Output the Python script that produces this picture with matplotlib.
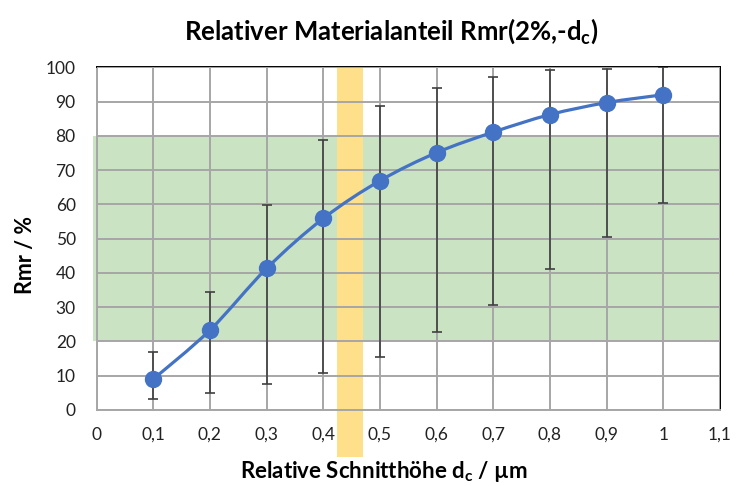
import numpy as np
import matplotlib
matplotlib.use("Agg")
from matplotlib import pyplot as plt
from matplotlib.path import Path
from matplotlib.patches import PathPatch, Rectangle

plt.rcParams['font.family'] = ['Lato', 'DejaVu Sans']
plt.rcParams['mathtext.default'] = 'regular'

# values
dc = [0.1, 0.2, 0.3, 0.4, 0.5, 0.6, 0.7, 0.8, 0.9, 1.0]
rmr = [9.0, 23.3, 41.3, 55.9, 66.9, 75.1, 81.1, 86.2, 89.7, 92.0]
rmr_low = [3.1, 4.9, 7.6, 10.7, 15.4, 22.8, 30.6, 41.2, 50.5, 60.4]
rmr_high = [17.0, 34.5, 59.8, 78.9, 88.6, 94.1, 97.2, 99.1, 99.6, 100.0]
band_green = (20, 80)
band_yellow = (0.425, 0.470)
xticks = [0, 0.1, 0.2, 0.3, 0.4, 0.5, 0.6, 0.7, 0.8, 0.9, 1.0, 1.1]
yticks = [0, 10, 20, 30, 40, 50, 60, 70, 80, 90, 100]

blue = '#4472C4'

fig = plt.figure(figsize=(7.4, 4.86), dpi=100)
ax = fig.add_axes([0.1305, 0.1564, 0.8425, 0.7051])

x = np.array(dc)
y = np.array(rmr)

# green tolerance band (sticks out a bit to the left like in the original)
ax.add_patch(Rectangle((-0.006, band_green[0]), 1.106, band_green[1] - band_green[0],
                       facecolor='#C9E3C3', edgecolor='none', zorder=0, clip_on=False))

# grid
ax.set_axisbelow(False)
ax.grid(True, color='#A6A6A6', lw=1.4, zorder=1)

# yellow band, reaching down into the tick label row
ax.add_patch(Rectangle((band_yellow[0], -13.7), band_yellow[1] - band_yellow[0], 113.7,
                       facecolor='#FFE08A', edgecolor='none', zorder=2, clip_on=False))

# error bars
yerr = [y - np.array(rmr_low), np.array(rmr_high) - y]
ax.errorbar(x, y, yerr=yerr, fmt='none', ecolor='#404040', elinewidth=1.2,
            capsize=3.5, capthick=1.2, zorder=3)

# smoothed line like the Excel one (Catmull-Rom as cubic Bezier)
verts = [(x[0], y[0])]
codes = [Path.MOVETO]
px = np.concatenate([[x[0]], x, [x[-1]]])
py = np.concatenate([[y[0]], y, [y[-1]]])
for i in range(1, len(x)):
    p0 = np.array([px[i - 1], py[i - 1]])
    p1 = np.array([px[i], py[i]])
    p2 = np.array([px[i + 1], py[i + 1]])
    p3 = np.array([px[i + 2], py[i + 2]])
    c1 = p1 + (p2 - p0) / 6
    c2 = p2 - (p3 - p1) / 6
    verts += [tuple(c1), tuple(c2), tuple(p2)]
    codes += [Path.CURVE4] * 3
ax.add_patch(PathPatch(Path(verts, codes), facecolor='none', edgecolor=blue, lw=2.3, zorder=4))
ax.plot(x, y, 'o', color=blue, markersize=11.5, zorder=5)

ax.set_xlim(0, 1.1)
ax.set_ylim(0, 100)
ax.set_xticks(xticks)
ax.set_xticklabels([('%g' % v).replace('.', ',') for v in xticks])
ax.set_yticks(yticks)
ax.tick_params(length=0, labelsize=12.5, colors='#222222')
ax.tick_params(axis='x', pad=12)
ax.tick_params(axis='y', pad=15)

for s in ['left', 'bottom']:
    ax.spines[s].set_color('#A6A6A6')
for s in ['top', 'right']:
    ax.spines[s].set_color('#000000')
for s in ax.spines.values():
    s.set_linewidth(1.4)

fig.text(0.528, 0.936, r'Relativer Materialanteil Rmr(2%,-d$_c$)', ha='center', va='center',
         fontsize=18.5, fontweight='bold')
fig.text(0.519, 0.03, r'Relative Schnitthöhe d$_c$ / µm', ha='center', va='center',
         fontsize=16, fontweight='bold')
fig.text(0.034, 0.476, 'Rmr / %', ha='center', va='center', rotation=90,
         fontsize=15.5, fontweight='bold')

fig.savefig('out.png', dpi=100)
